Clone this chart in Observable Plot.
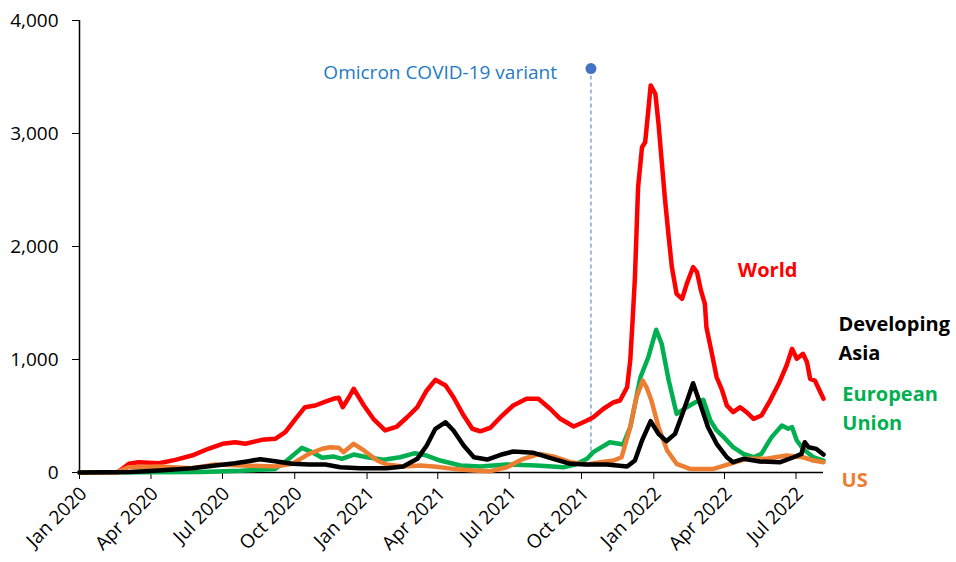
<!DOCTYPE html>
<html>
<head>
<meta charset="utf-8">
<script src="https://cdn.jsdelivr.net/npm/d3@7"></script>
<script src="https://cdn.jsdelivr.net/npm/@observablehq/plot@0.6"></script>
<style>
  html, body { margin: 0; padding: 0; background: #fff; }
  #chart { width: 956px; height: 562px; }
</style>
</head>
<body>
<div id="chart"></div>
<script>
// ---- Data ----
const world = [
  ["2020-01-01",0],["2020-02-18",0],["2020-03-04",77],["2020-03-16",91],["2020-04-11",82],
  ["2020-05-02",112],["2020-05-23",150],["2020-06-13",210],["2020-07-01",254],["2020-07-17",268],
  ["2020-07-30",254],["2020-08-20",289],["2020-09-06",298],["2020-09-19",357],["2020-10-02",475],
  ["2020-10-14",578],["2020-10-27",593],["2020-11-09",628],["2020-11-19",652],["2020-11-26",661],
  ["2020-12-01",578],["2020-12-09",666],["2020-12-15",741],["2020-12-28",593],["2021-01-09",475],
  ["2021-01-24",372],["2021-02-08",407],["2021-02-21",489],["2021-03-06",578],["2021-03-18",726],
  ["2021-03-29",820],["2021-04-11",770],["2021-04-21",666],["2021-05-04",504],["2021-05-15",387],
  ["2021-05-25",365],["2021-06-07",396],["2021-06-22",504],["2021-07-06",593],["2021-07-23",652],
  ["2021-08-07",652],["2021-08-22",564],["2021-09-04",475],["2021-09-21",407],["2021-09-29",431],
  ["2021-10-08",460],["2021-10-16",489],["2021-10-29",564],["2021-11-11",622],["2021-11-19",637],
  ["2021-11-28",755],["2021-12-02",991],["2021-12-05",1345],["2021-12-08",1728],["2021-12-12",2525],
  ["2021-12-17",2879],["2021-12-21",2923],["2021-12-25",3204],["2021-12-28",3425],["2022-01-03",3351],
  ["2022-01-07",3086],["2022-01-11",2761],["2022-01-15",2436],["2022-01-20",2082],["2022-01-24",1817],
  ["2022-01-30",1581],["2022-02-06",1537],["2022-02-12",1670],["2022-02-20",1817],["2022-02-25",1773],
  ["2022-03-02",1611],["2022-03-07",1493],["2022-03-09",1286],["2022-03-16",1050],["2022-03-22",843],
  ["2022-03-29",726],["2022-04-04",593],["2022-04-12",534],["2022-04-21",578],["2022-04-29",534],
  ["2022-05-08",475],["2022-05-18",504],["2022-05-29",637],["2022-06-09",785],["2022-06-19",947],
  ["2022-06-26",1095],["2022-07-02",1006],["2022-07-10",1050],["2022-07-15",976],["2022-07-19",829],
  ["2022-07-25",814],["2022-07-31",726],["2022-08-05",652]
];
const europeanUnion = [
  ["2020-01-01",0],["2020-06-03",5],["2020-07-24",15],["2020-09-06",32],["2020-09-21",106],
  ["2020-10-10",218],["2020-10-23",180],["2020-11-05",130],["2020-11-19",142],["2020-11-30",121],
  ["2020-12-15",159],["2021-01-01",135],["2021-01-22",112],["2021-02-12",135],["2021-03-03",171],
  ["2021-03-18",150],["2021-04-04",106],["2021-04-30",62],["2021-05-25",53],["2021-06-28",71],
  ["2021-08-05",62],["2021-09-08",47],["2021-09-23",70],["2021-10-08",121],["2021-10-16",180],
  ["2021-11-06",268],["2021-11-23",248],["2021-12-02",401],["2021-12-15",843],["2021-12-25",1020],
  ["2022-01-04",1263],["2022-01-11",1139],["2022-01-20",814],["2022-01-30",519],["2022-02-12",578],
  ["2022-02-23",622],["2022-03-05",643],["2022-03-14",460],["2022-03-22",372],["2022-03-31",313],
  ["2022-04-12",224],["2022-04-25",165],["2022-05-08",135],["2022-05-18",165],["2022-05-31",313],
  ["2022-06-13",416],["2022-06-21",387],["2022-06-26",401],["2022-07-02",283],["2022-07-10",209],
  ["2022-07-23",135],["2022-08-05",106]
];
const us = [
  ["2020-01-01",0],["2020-02-16",0],["2020-03-04",47],["2020-04-11",53],["2020-05-23",38],
  ["2020-06-22",71],["2020-07-26",62],["2020-09-06",53],["2020-09-28",77],["2020-10-19",165],
  ["2020-11-05",210],["2020-11-15",224],["2020-11-26",218],["2020-12-02",180],["2020-12-15",254],
  ["2020-12-28",195],["2021-01-14",106],["2021-01-26",71],["2021-02-16",53],["2021-03-10",62],
  ["2021-03-27",53],["2021-04-21",32],["2021-05-17",18],["2021-06-07",12],["2021-06-28",47],
  ["2021-07-19",121],["2021-08-09",165],["2021-08-26",142],["2021-09-17",91],["2021-10-08",71],
  ["2021-10-25",91],["2021-11-11",106],["2021-11-21",135],["2021-12-02",401],["2021-12-10",666],
  ["2021-12-18",814],["2021-12-23",750],["2021-12-29",637],["2022-01-07",401],["2022-01-18",195],
  ["2022-01-30",77],["2022-02-16",32],["2022-03-18",32],["2022-04-08",77],["2022-04-29",121],
  ["2022-05-24",121],["2022-06-19",150],["2022-07-10",135],["2022-07-23",106],["2022-08-05",91]
];
const developingAsia = [
  ["2020-01-01",0],["2020-03-06",5],["2020-04-11",18],["2020-05-23",38],["2020-06-22",62],
  ["2020-07-17",82],["2020-08-03",100],["2020-08-18",118],["2020-09-06",100],["2020-09-28",77],
  ["2020-10-19",71],["2020-11-09",71],["2020-11-28",47],["2020-12-23",38],["2021-01-26",38],
  ["2021-02-16",53],["2021-03-06",121],["2021-03-18",239],["2021-03-29",387],["2021-04-11",445],
  ["2021-04-21",372],["2021-05-04",239],["2021-05-17",135],["2021-06-03",115],["2021-06-20",157],
  ["2021-07-06",186],["2021-08-01",174],["2021-08-26",121],["2021-09-17",77],["2021-10-08",71],
  ["2021-11-02",71],["2021-11-28",53],["2021-12-08",106],["2021-12-17",283],["2021-12-28",454],
  ["2022-01-07",342],["2022-01-17",277],["2022-01-28",342],["2022-02-08",549],["2022-02-20",790],
  ["2022-03-01",608],["2022-03-11",401],["2022-03-22",254],["2022-04-04",135],["2022-04-12",91],
  ["2022-04-25",121],["2022-05-16",97],["2022-06-11",91],["2022-06-28",135],["2022-07-08",165],
  ["2022-07-12",268],["2022-07-17",224],["2022-07-27",209],["2022-08-05",159]
];
const seriesNames = ["World", "European Union", "US", "Developing Asia"];
const labelTexts = ["World", "European\nUnion", "US", "Developing\nAsia"];
const yTicks = [0, 1000, 2000, 3000, 4000];
const omicronDate = "2021-10-13";
const omicronLabel = "Omicron COVID-19 variant";
const omicronTop = 3575;
const omicronBottom = 190;

// ---- Build table ----
const parse = d3.utcParse("%Y-%m-%d");
const rows = [];
[[seriesNames[0], world], [seriesNames[1], europeanUnion], [seriesNames[2], us], [seriesNames[3], developingAsia]]
  .forEach(([name, arr]) => arr.forEach(([d, v]) => rows.push({series: name, date: parse(d), value: v})));

const colors = {"World": "#ff0000", "European Union": "#00b050", "US": "#ed7d31", "Developing Asia": "#000000"};
const xStart = parse("2020-01-01"), xEnd = parse("2022-08-05");
const xTicks = d3.utcMonth.every(3);

// label anchors (date, value) in data space
const labels = [
  {text: labelTexts[0], date: parse("2022-04-18"), value: 1810, color: colors["World"]},
  {text: labelTexts[3], date: parse("2022-08-24"), value: 1210, color: colors["Developing Asia"]},
  {text: labelTexts[1], date: parse("2022-08-29"), value: 588, color: colors["European Union"]},
  {text: labelTexts[2], date: parse("2022-08-28"), value: -50, color: colors["US"]}
];

const chart = Plot.plot({
  width: 956,
  height: 562,
  marginLeft: 79,
  marginRight: 133,
  marginTop: 20,
  marginBottom: 90,
  style: {fontFamily: "'Open Sans', sans-serif", fontSize: "19px", color: "#000", background: "#fff"},
  x: {type: "utc", domain: [xStart, xEnd]},
  y: {domain: [0, 4000]},
  marks: [
    Plot.axisY({ticks: yTicks, tickFormat: d3.format(","), tickSize: 7, tickPadding: 14, fontSize: 19, label: null, stroke: "#000"}),
    // tick marks only
    Plot.axisX({ticks: xTicks, tickFormat: () => "", tickSize: 7, label: null, stroke: "#000"}),
    // rotated labels only
    Plot.axisX({ticks: xTicks, tickFormat: d3.utcFormat("%b %Y"), tickRotate: -45, tickSize: 0, tickPadding: 18, dx: 4, fontSize: 19, label: null}),
    Plot.ruleX([xStart], {stroke: "#000", strokeWidth: 1.5}),
    Plot.ruleY([0], {stroke: "#000", strokeWidth: 1.5}),
    Plot.ruleX([parse(omicronDate)], {y1: omicronBottom, y2: omicronTop, stroke: "#4472c4", strokeWidth: 1, strokeDasharray: "4,3"}),
    Plot.dot([{date: parse(omicronDate), value: omicronTop}], {x: "date", y: "value", r: 5.5, fill: "#4472c4", stroke: null}),
    Plot.text([{date: parse(omicronDate), value: omicronTop, text: omicronLabel}], {x: "date", y: "value", text: "text", textAnchor: "end", dx: -34, dy: 4, fill: "#1f7bc4", fontSize: 19}),
    ...seriesNames.map(name => Plot.line(rows.filter(r => r.series === name), {x: "date", y: "value", stroke: colors[name], strokeWidth: 4.5, strokeLinejoin: "round", strokeLinecap: "round"})),
    Plot.text(labels, {x: "date", y: "value", text: "text", fill: "color", textAnchor: "start", fontWeight: "bold", fontSize: 20, lineHeight: 1.45})
  ]
});
document.getElementById("chart").appendChild(chart);
</script>
</body>
</html>
